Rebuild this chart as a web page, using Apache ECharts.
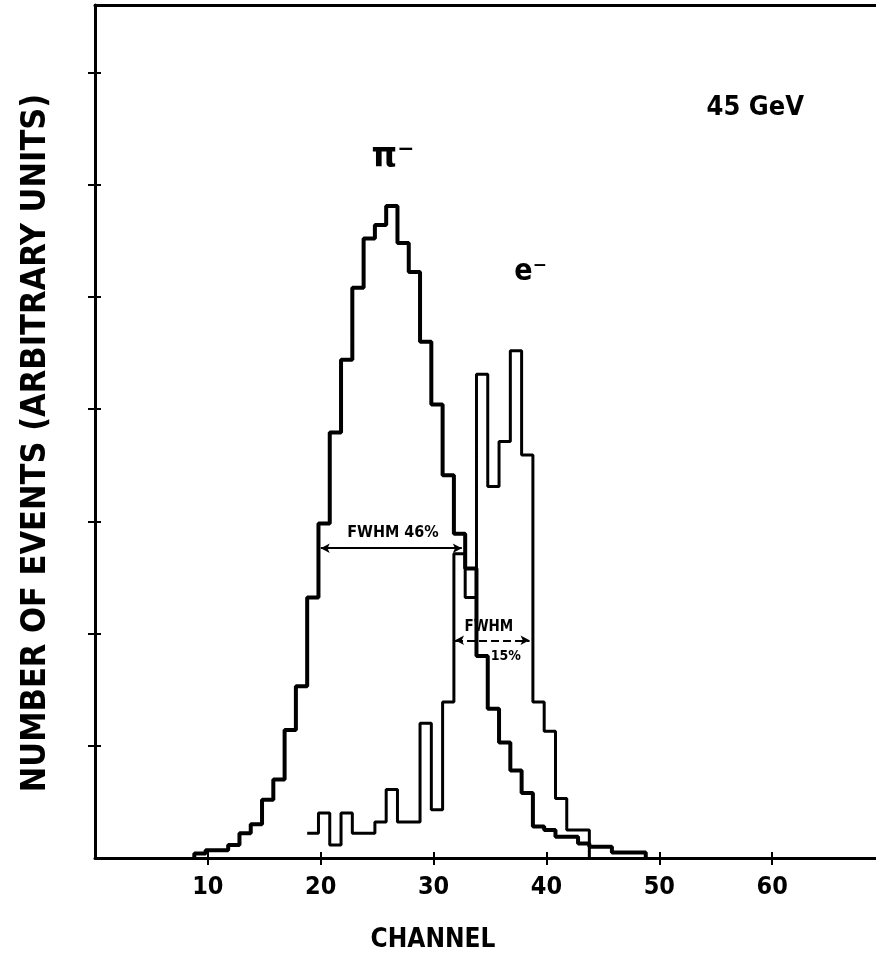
<!DOCTYPE html>
<html>
<head>
<meta charset="utf-8">
<script src="https://cdn.jsdelivr.net/npm/echarts@6/dist/echarts.min.js"></script>
<style>
  html, body { margin: 0; padding: 0; background: #fff; }
  #chart { width: 876px; height: 960px; }
</style>
</head>
<body>
<div id="chart"></div>
<script>
// channel tick labels
var xTicks = [10, 20, 30, 40, 50, 60];
// unlabelled ticks on the count axis
var yTicks = [10, 20, 30, 40, 50, 60, 70];

// pi- histogram, one value per channel bin, first bin starts at piFirstEdge
var piFirstEdge = 8.8;
var piValues = [0.4, 0.7, 0.7, 1.15, 2.2, 3.0, 5.2, 7.0, 11.4, 15.3,
                23.2, 29.8, 37.9, 44.4, 50.8, 55.2, 56.4, 58.1, 54.8, 52.2,
                46.0, 40.4, 34.1, 28.9, 25.8, 18.0, 13.3, 10.3, 7.8, 5.8,
                2.8, 2.5, 1.9, 1.9, 1.3, 1.0, 1.0, 0.5, 0.5, 0.5];

// e- histogram
var eFirstEdge = 18.8;
var eValues = [2.2, 4.0, 1.15, 4.0, 2.2, 2.2, 3.2, 6.1, 3.2, 3.2,
               12.0, 4.3, 13.9, 27.1, 23.2, 43.1, 33.1, 37.1, 45.2, 35.9,
               13.9, 11.3, 5.3, 2.5, 2.5];

// FWHM markers [x from, x to, y]
var fwhmPi = [20.0, 32.5, 27.6];
var fwhmE = [31.9, 38.5, 19.4];

var FONT = '"DejaVu Sans Condensed", "DejaVu Sans", sans-serif';

// text notes placed in data coordinates
var notes = [
    {text: '45 GeV', at: [58.5, 66.8], size: 27},
    {text: 'π⁻', at: [26.4, 62.4], size: 36},
    {text: 'e⁻', at: [38.6, 52.2], size: 30},
    {text: 'FWHM 46%', at: [26.4, 29.0], size: 16},
    {text: 'FWHM', at: [34.9, 20.6], size: 15},
    {text: '15%', at: [36.4, 18.0], size: 14}
];

function toSteps(first, vals, closeLeft){
    var pts = [];
    if (closeLeft) pts.push([first, 0]);
    for (var i = 0; i < vals.length; i++) {
        pts.push([first + i, vals[i]]);
    }
    pts.push([first + vals.length, 0]);
    return pts;
}

function get_option(){
    var xBase = {
        type: 'value', min: 0, max: 69.2, interval: 10,
        splitLine: {show: false}
    };
    var yBase = {
        type: 'value', min: 0, max: 76, interval: 10,
        splitLine: {show: false}
    };
    var tickStyle = {color: '#000', width: 2};
    var option = {
        animation: false,
        backgroundColor: '#fff',
        grid: {
            left: 95, right: 0, top: 5, bottom: 102
        },
        xAxis: [
            Object.assign({}, xBase, {
                position: 'bottom',
                axisLine: {show: true, lineStyle: {color: '#000', width: 3}},
                axisTick: {show: true, length: 7, customValues: xTicks, lineStyle: tickStyle},
                axisLabel: {
                    show: true, margin: 17, color: '#000', customValues: xTicks,
                    fontFamily: FONT, fontWeight: 'bold', fontSize: 25
                }
            }),
            Object.assign({}, xBase, {
                position: 'bottom',
                axisLine: {show: false},
                axisTick: {show: true, inside: true, length: 6, customValues: xTicks, lineStyle: tickStyle},
                axisLabel: {show: false}
            }),
            Object.assign({}, xBase, {
                position: 'top',
                axisLine: {show: true, lineStyle: {color: '#000', width: 3}},
                axisTick: {show: false},
                axisLabel: {show: false}
            })
        ],
        yAxis: [
            Object.assign({}, yBase, {
                position: 'left',
                axisLine: {show: true, lineStyle: {color: '#000', width: 3}},
                axisTick: {show: true, length: 7, customValues: yTicks, lineStyle: tickStyle},
                axisLabel: {show: false}
            }),
            Object.assign({}, yBase, {
                position: 'left',
                axisLine: {show: false},
                axisTick: {show: true, inside: true, length: 6, customValues: yTicks, lineStyle: tickStyle},
                axisLabel: {show: false}
            })
        ],
        series: [
            {
                name: 'pi-', type: 'line', step: 'end',
                data: toSteps(piFirstEdge, piValues, true),
                symbol: 'none',
                lineStyle: {color: '#000', width: 4}
            },
            {
                name: 'e-', type: 'line', step: 'end',
                data: toSteps(eFirstEdge, eValues, false),
                symbol: 'none',
                lineStyle: {color: '#000', width: 3}
            },
            {
                name: 'fwhm', type: 'line', data: [],
                markLine: {
                    silent: true,
                    symbol: ['arrow', 'arrow'],
                    symbolSize: [7, 9],
                    label: {show: false},
                    lineStyle: {color: '#000', width: 2, type: 'solid'},
                    data: [
                        [{coord: [fwhmPi[0], fwhmPi[2]]}, {coord: [fwhmPi[1], fwhmPi[2]]}],
                        [{coord: [fwhmE[0], fwhmE[2]], lineStyle: {type: 'dashed', color: '#000', width: 2}},
                         {coord: [fwhmE[1], fwhmE[2]]}]
                    ]
                }
            }
        ]
    };
    return option;
}

function textEl(text, x, y, size, rot){
    return {
        type: 'text', x: x, y: y, rotation: rot || 0,
        style: {
            text: text, x: 0, y: 0, fill: '#000',
            font: 'bold ' + size + 'px ' + FONT,
            textAlign: 'center', textVerticalAlign: 'middle',
            align: 'center', verticalAlign: 'middle'
        }
    };
}

function init_chart(chartId){
    var myChart = echarts.init(document.getElementById(chartId));
    myChart.setOption(get_option());

    var els = notes.map(function (n) {
        var p = myChart.convertToPixel({gridIndex: 0}, n.at);
        return textEl(n.text, p[0], p[1], n.size);
    });
    els.push(textEl('CHANNEL', 433, 940, 26));
    els.push(textEl('NUMBER OF EVENTS (ARBITRARY UNITS)', 36, 443, 34, Math.PI / 2));
    myChart.setOption({graphic: els});
}

init_chart('chart');
</script>
</body>
</html>
